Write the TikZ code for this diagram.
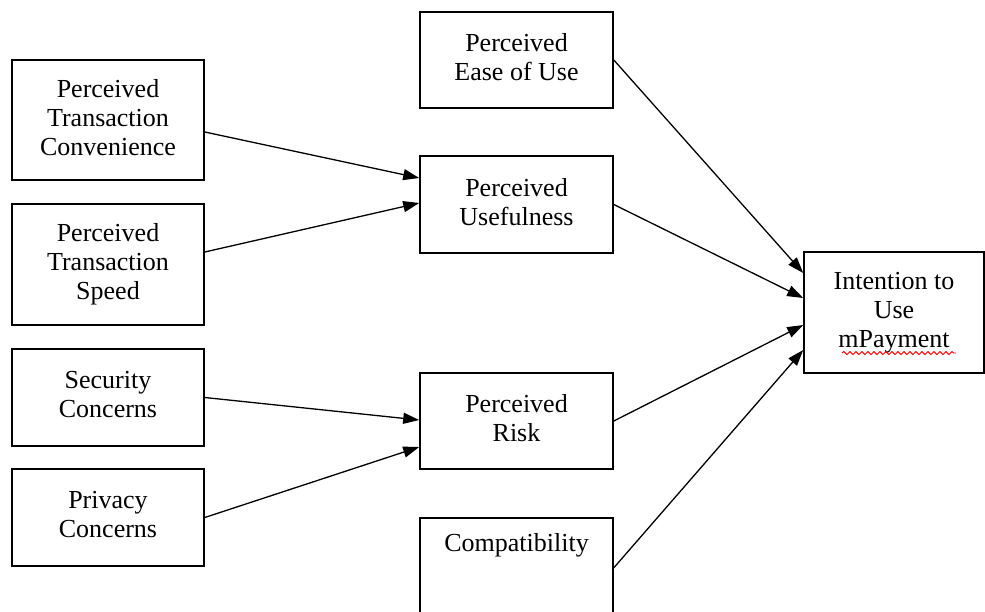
\documentclass[tikz,border=0pt]{standalone}
\usepackage{fontspec}
\setmainfont{Liberation Serif}
\usetikzlibrary{calc,arrows.meta,decorations.pathmorphing}
\tikzstyle{factor} = [rectangle, draw, line width=1.6pt, text centered, align=center, minimum width=192pt, text depth=6pt, font=\fontsize{26}{29}\selectfont]
\tikzstyle{connector} = [line width=1.3pt, -{Triangle[length=16pt,width=11pt]}]
\tikzstyle{spellmark} = [red, line width=0.9pt, decorate, decoration={snake, amplitude=1.5pt, segment length=6pt}]

\begin{document}
\begin{tikzpicture}[x=1pt,y=-1pt]
        \useasboundingbox (0,0) rectangle (985,611);
        % antecedents
        \node (convenience) [factor, minimum height=120pt] at (108,120) {Perceived\\Transaction\\Convenience};
        \node (speed) [factor, minimum height=121pt] at (108,264.5) {Perceived\\Transaction\\Speed};
        \node (security) [factor, minimum height=97pt] at (108,397.5) {Security\\Concerns};
        \node (privacy) [factor, minimum height=97pt] at (108,517.5) {Privacy\\Concerns};
        % mediators
        \node (ease) [factor, minimum width=193pt, minimum height=96pt] at (516.5,60) {Perceived\\Ease of Use};
        \node (useful) [factor, minimum width=193pt, minimum height=97pt] at (516.5,204.5) {Perceived\\Usefulness};
        \node (risk) [factor, minimum width=193pt, minimum height=96pt] at (516.5,421) {Perceived\\Risk};
        \node (compat) [factor, minimum width=193pt, anchor=north, inner ysep=16pt, text height=18pt, text depth=50pt] at (516.5,517) {Compatibility};
        % outcome
        \node (intent) [factor, minimum width=180pt, minimum height=121pt] at (894,312.5) {Intention to\\Use\\mPayment};
        \draw [spellmark] ([xshift=-52pt,yshift=-40.5pt]intent.center) -- ([xshift=62pt,yshift=-40.5pt]intent.center);
        \draw [connector] ([yshift=-12pt]convenience.east) -- ([yshift=26.5pt]useful.west);
        \draw [connector] ([yshift=12.5pt]speed.east) -- ([yshift=1.5pt]useful.west);
        \draw [connector] (security.east) -- ([yshift=1pt]risk.west);
        \draw [connector] (privacy.east) -- ([yshift=-26pt]risk.west);
        \draw [connector] (ease.east) -- ([yshift=39.5pt]intent.west);
        \draw [connector] (useful.east) -- ([yshift=14.5pt]intent.west);
        \draw [connector] (risk.east) -- ([yshift=-12.5pt]intent.west);
        \draw [connector] (compat.east) -- ([yshift=-37.5pt]intent.west);
    \end{tikzpicture}
\end{document}
